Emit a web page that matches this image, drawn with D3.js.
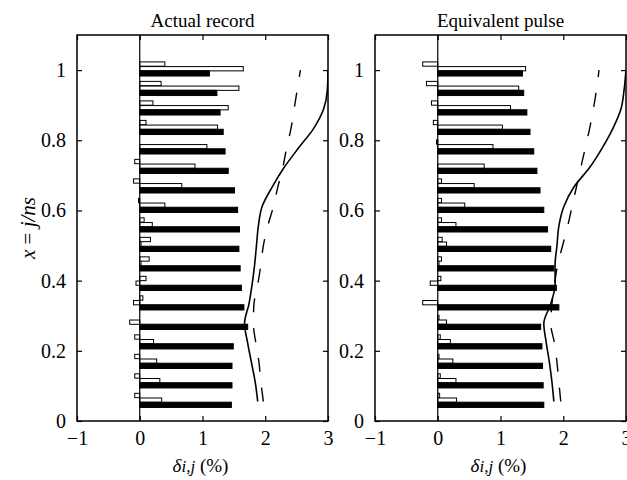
<!DOCTYPE html>
<html>
<head>
<meta charset="utf-8">
<script src="https://cdn.jsdelivr.net/npm/d3@7"></script>
<style>
  html, body { margin: 0; padding: 0; background: #fff; }
  svg { display: block; }
  text { font-family: "Liberation Serif", "DejaVu Serif", serif; fill: #000; }
</style>
</head>
<body>
<svg id="chart" width="627" height="480"></svg>
<script>
// Storey index j and number of storeys ns; the vertical coordinate is x = j/ns
const ns = 18;
const storeys = [1, 2, 3, 4, 5, 6, 7, 8, 9, 10, 11, 12, 13, 14, 15, 16, 17, 18];

// Inter-storey drift ratios delta_{i,j} (%) per storey, three bars per storey
// (first two outlined, the third filled)
const actualFirst  = [-0.08, -0.08, -0.08, -0.08, 0.00, 0.05, 0.10, 0.15, 0.17, 0.07, -0.02, -0.10, -0.08, 0.00, 0.10, 0.21, 0.34, 0.40];
const actualSecond = [0.35, 0.32, 0.27, 0.22, -0.16, -0.10, -0.06, 0.02, 0.02, 0.20, 0.40, 0.67, 0.88, 1.07, 1.24, 1.41, 1.58, 1.65];
const actualThird  = [1.46, 1.47, 1.47, 1.49, 1.72, 1.66, 1.62, 1.60, 1.58, 1.59, 1.56, 1.51, 1.41, 1.36, 1.33, 1.28, 1.23, 1.11];
const actualSolid  = [1.88, 1.84, 1.78, 1.72, 1.67, 1.74, 1.79, 1.83, 1.86, 1.89, 1.95, 2.11, 2.30, 2.53, 2.77, 2.93, 2.99, 3.00];
const actualDashed = [1.97, 1.93, 1.90, 1.85, 1.81, 1.82, 1.88, 1.93, 1.97, 2.04, 2.13, 2.20, 2.28, 2.34, 2.41, 2.46, 2.51, 2.56];

const pulseFirst  = [0.03, 0.04, 0.02, 0.04, 0.02, 0.00, 0.05, 0.06, 0.07, 0.06, 0.06, 0.06, 0.00, -0.02, -0.07, -0.10, -0.18, -0.24];
const pulseSecond = [0.30, 0.29, 0.24, 0.20, 0.14, -0.24, -0.12, 0.02, 0.14, 0.29, 0.43, 0.58, 0.74, 0.88, 1.03, 1.16, 1.29, 1.40];
const pulseThird  = [1.69, 1.68, 1.67, 1.66, 1.64, 1.93, 1.89, 1.85, 1.80, 1.75, 1.69, 1.63, 1.58, 1.53, 1.47, 1.42, 1.37, 1.35];
const pulseSolid  = [1.85, 1.82, 1.78, 1.73, 1.69, 1.80, 1.87, 1.87, 1.90, 1.93, 2.01, 2.17, 2.42, 2.62, 2.79, 2.92, 2.97, 3.00];
const pulseDashed = [1.96, 1.93, 1.90, 1.86, 1.80, 1.82, 1.86, 1.91, 1.99, 2.07, 2.14, 2.21, 2.28, 2.35, 2.42, 2.48, 2.53, 2.57];

const xTicks = [-1, 0, 1, 2, 3];
const yTicks = [0, 0.2, 0.4, 0.6, 0.8, 1];
const titles = ["Actual record", "Equivalent pulse"];

const svg = d3.select("#chart");
const plotTop = 35, plotBottom = 421;
const y = d3.scaleLinear().domain([0, 1.1]).range([plotBottom, plotTop]);
const step = y(0) - y(1 / ns);

const panels = [
  { title: titles[0], left: 77, right: 328, first: actualFirst, second: actualSecond, third: actualThird, solid: actualSolid, dashed: actualDashed },
  { title: titles[1], left: 375, right: 626, first: pulseFirst, second: pulseSecond, third: pulseThird, solid: pulseSolid, dashed: pulseDashed }
];

// vertical placement of the three bars around each storey level
const barSlots = [
  { key: "first",  offset: -0.31, h: 0.22, fill: "#fff" },
  { key: "second", offset: -0.07, h: 0.22, fill: "#fff" },
  { key: "third",  offset: 0.17,  h: 0.27, fill: "#000" }
];

panels.forEach((p, pi) => {
  const x = d3.scaleLinear().domain([-1, 3]).range([p.left, p.right]);
  const g = svg.append("g");

  const clipId = "clip" + pi;
  svg.append("clipPath").attr("id", clipId)
    .append("rect").attr("x", p.left).attr("y", plotTop).attr("width", p.right - p.left).attr("height", plotBottom - plotTop);

  // bars
  barSlots.forEach(slot => {
    const vals = p[slot.key];
    g.append("g").selectAll("rect")
      .data(storeys.map((j, i) => ({ level: j / ns, v: vals[i] })))
      .join("rect")
      .attr("x", d => x(Math.min(0, d.v)))
      .attr("width", d => Math.abs(x(d.v) - x(0)))
      .attr("y", d => y(d.level) + slot.offset * step - slot.h * step / 2)
      .attr("height", slot.h * step)
      .attr("fill", slot.fill)
      .attr("stroke", "#000")
      .attr("stroke-width", 1);
  });

  // zero line
  g.append("line")
    .attr("x1", x(0)).attr("x2", x(0)).attr("y1", plotTop).attr("y2", plotBottom)
    .attr("stroke", "#000").attr("stroke-width", 1.2);

  // envelope curves
  const line = d3.line()
    .x(d => x(d.v))
    .y(d => y(d.level))
    .curve(d3.curveMonotoneY);
  const lg = g.append("g").attr("clip-path", `url(#${clipId})`);
  lg.append("path")
    .datum(storeys.map((j, i) => ({ level: j / ns, v: p.solid[i] })))
    .attr("d", line).attr("fill", "none").attr("stroke", "#000").attr("stroke-width", 1.6);
  lg.append("path")
    .datum(storeys.map((j, i) => ({ level: j / ns, v: p.dashed[i] })))
    .attr("d", line).attr("fill", "none").attr("stroke", "#000").attr("stroke-width", 1.4)
    .attr("stroke-dasharray", "14,16");

  // axes with inward ticks
  const xAxisB = d3.axisBottom(x).tickValues(xTicks).tickSize(-5).tickPadding(10)
    .tickFormat(d => d < 0 ? "\u2212" + Math.abs(d) : d);
  const xAxisT = d3.axisTop(x).tickValues(xTicks).tickSize(-5).tickFormat("");
  const yAxisL = d3.axisLeft(y).tickValues(yTicks).tickSize(-5).tickPadding(11)
    .tickFormat(d => d === 0 ? "0" : d === 1 ? "1" : d3.format(".1f")(d));
  const yAxisR = d3.axisRight(y).tickValues(yTicks).tickSize(-5).tickFormat("");

  const axes = [
    g.append("g").attr("transform", `translate(0,${plotBottom})`).call(xAxisB),
    g.append("g").attr("transform", `translate(0,${plotTop})`).call(xAxisT),
    g.append("g").attr("transform", `translate(${p.left},0)`).call(yAxisL),
    g.append("g").attr("transform", `translate(${p.right},0)`).call(yAxisR)
  ];
  axes.forEach(a => {
    a.select(".domain").remove();
    a.selectAll(".tick line").attr("stroke", "#000").attr("stroke-width", 1.2);
    a.selectAll(".tick text").attr("font-size", 20).attr("fill", "#000")
      .attr("font-family", "Liberation Serif, serif");
  });

  // frame
  g.append("rect")
    .attr("x", p.left).attr("y", plotTop).attr("width", p.right - p.left).attr("height", plotBottom - plotTop)
    .attr("fill", "none").attr("stroke", "#000").attr("stroke-width", 1.5);

  // title
  g.append("text")
    .attr("x", (p.left + p.right) / 2).attr("y", 27)
    .attr("text-anchor", "middle").attr("font-size", 19)
    .text(p.title);

  // x-axis label: delta_{i,j} (%)
  const xl = g.append("text")
    .attr("x", (p.left + p.right) / 2 - 2).attr("y", 472)
    .attr("text-anchor", "middle").attr("font-size", 19);
  xl.append("tspan").attr("font-style", "italic").text("\u03b4");
  xl.append("tspan").attr("font-style", "italic").attr("font-size", 17).text("i,j");
  xl.append("tspan").text(" (%)");
});

// y-axis label
const yl = svg.append("text")
  .attr("transform", `translate(35,${(plotTop + plotBottom) / 2}) rotate(-90)`)
  .attr("text-anchor", "middle").attr("font-size", 21);
yl.append("tspan").attr("font-style", "italic").text("x");
yl.append("tspan").text(" = ");
yl.append("tspan").attr("font-style", "italic").text("j/ns");
</script>
</body>
</html>
